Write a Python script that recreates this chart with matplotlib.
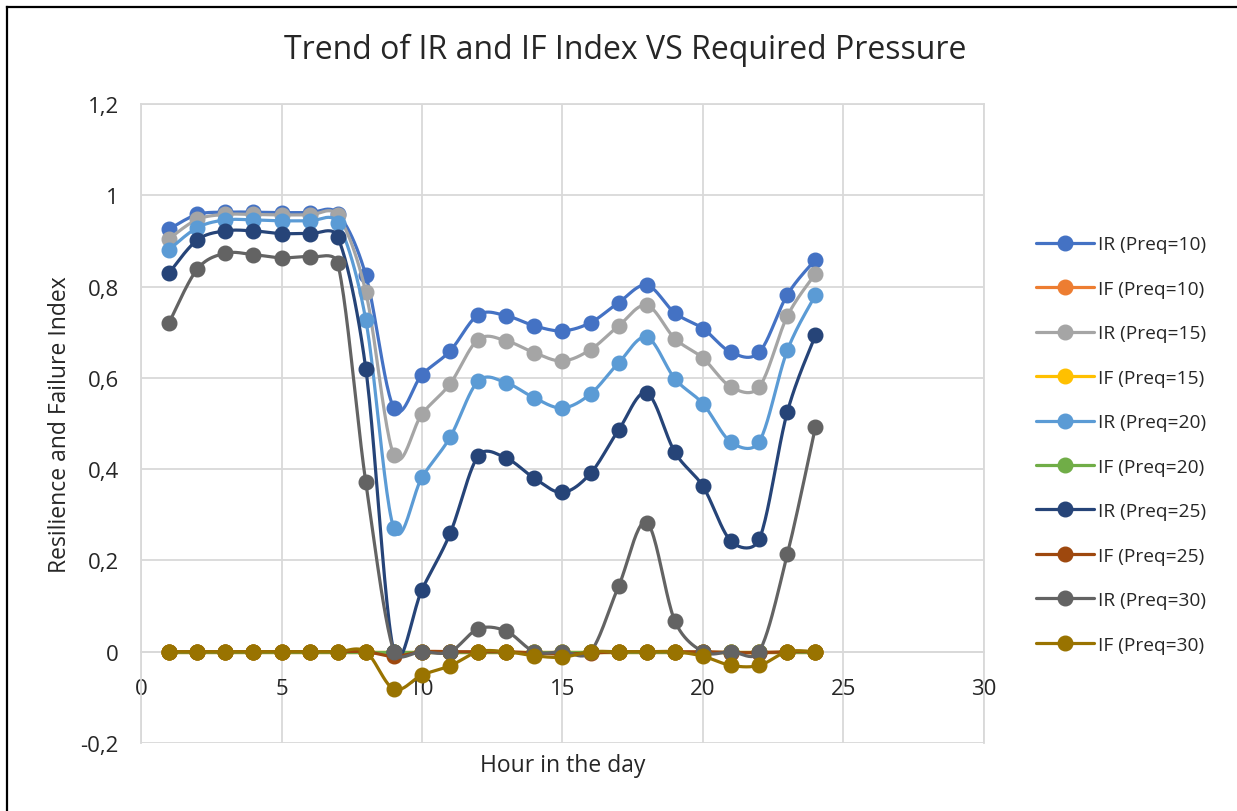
import matplotlib.pyplot as plt
import numpy as np
from matplotlib.lines import Line2D
from matplotlib.ticker import FuncFormatter, MultipleLocator

plt.rcParams["font.family"] = ["Open Sans", "DejaVu Sans"]

hours = np.arange(1, 25)

ir_10 = [0.926, 0.958, 0.963, 0.963, 0.962, 0.962, 0.960, 0.825, 0.534, 0.607,
         0.659, 0.738, 0.736, 0.714, 0.703, 0.721, 0.765, 0.803, 0.742, 0.708,
         0.656, 0.656, 0.782, 0.859]
if_10 = [0.0] * 24
ir_15 = [0.905, 0.947, 0.958, 0.958, 0.957, 0.957, 0.956, 0.788, 0.431, 0.521,
         0.587, 0.684, 0.681, 0.655, 0.637, 0.662, 0.714, 0.759, 0.686, 0.643,
         0.580, 0.580, 0.735, 0.828]
if_15 = [0.0] * 24
ir_20 = [0.881, 0.929, 0.946, 0.946, 0.944, 0.944, 0.940, 0.727, 0.270, 0.382,
         0.470, 0.593, 0.589, 0.556, 0.534, 0.565, 0.633, 0.689, 0.598, 0.543,
         0.459, 0.460, 0.660, 0.781]
if_20 = [0.0] * 24
ir_25 = [0.830, 0.902, 0.922, 0.922, 0.916, 0.916, 0.909, 0.620, 0.0, 0.136,
         0.259, 0.429, 0.424, 0.380, 0.349, 0.391, 0.486, 0.567, 0.437, 0.362,
         0.242, 0.246, 0.525, 0.693]
if_25 = [0.0, 0.0, 0.0, 0.0, 0.0, 0.0, 0.0, 0.0, -0.01, 0.0,
         0.0, 0.0, 0.0, -0.003, -0.005, -0.003, 0.0, 0.0, 0.0, 0.0,
         -0.002, -0.002, 0.0, 0.0]
ir_30 = [0.721, 0.838, 0.873, 0.870, 0.863, 0.865, 0.851, 0.371, 0.0, 0.0,
         0.0, 0.050, 0.045, 0.0, 0.0, 0.0, 0.144, 0.283, 0.067, 0.0,
         0.0, 0.0, 0.213, 0.492]
if_30 = [0.0, 0.0, 0.0, 0.0, 0.0, 0.0, 0.0, 0.0, -0.082, -0.051,
         -0.031, 0.0, 0.0, -0.009, -0.012, 0.0, 0.0, 0.0, 0.0, -0.010,
         -0.030, -0.030, 0.0, 0.0]

series = [
    ("IR (Preq=10)", ir_10, "#4472C4"),
    ("IF (Preq=10)", if_10, "#ED7D31"),
    ("IR (Preq=15)", ir_15, "#A5A5A5"),
    ("IF (Preq=15)", if_15, "#FFC000"),
    ("IR (Preq=20)", ir_20, "#5B9BD5"),
    ("IF (Preq=20)", if_20, "#70AD47"),
    ("IR (Preq=25)", ir_25, "#264478"),
    ("IF (Preq=25)", if_25, "#9E480E"),
    ("IR (Preq=30)", ir_30, "#636363"),
    ("IF (Preq=30)", if_30, "#997300"),
]


def smooth_curve(x, y, sx=28.1, sy=455.0, samples=24, limit=0.45):
    """Smoothed line through the points (cubic Bezier, worked out in
    screen-like units so the tangents are not skewed by the axis scales)."""
    pts = np.column_stack([np.asarray(x) * sx, np.asarray(y) * sy]).astype(float)
    padded = np.vstack([pts[0], pts, pts[-1]])
    t = np.linspace(0.0, 1.0, samples, endpoint=False)[:, None]
    out = []
    for i in range(len(pts) - 1):
        p0 = padded[i + 1]
        p3 = padded[i + 2]
        seg_len = np.hypot(*(p3 - p0))
        t0 = (padded[i + 2] - padded[i]) / 6.0
        t1 = (padded[i + 3] - padded[i + 1]) / 6.0
        for tang in (t0, t1):
            n = np.hypot(*tang)
            if n > limit * seg_len and n > 0:
                tang *= limit * seg_len / n
        c1 = p0 + t0
        c2 = p3 - t1
        seg = ((1 - t) ** 3) * p0 + 3 * ((1 - t) ** 2) * t * c1 \
            + 3 * (1 - t) * t ** 2 * c2 + t ** 3 * p3
        out.append(seg)
    out.append(pts[-1:])
    curve = np.vstack(out)
    return curve[:, 0] / sx, curve[:, 1] / sy, list(range(0, len(curve), samples))


fig = plt.figure(figsize=(12.37, 8.12), dpi=100)
W, H = 1237, 812
ax = fig.add_axes([141 / W, 1 - 744 / H, (984 - 141) / W, (744 - 105) / H])

for label, values, color in series:
    cx, cy, marks = smooth_curve(hours, values)
    ax.plot(cx, cy, color=color, linewidth=2.3, marker="o", markersize=10.5,
            markevery=marks, label=label, solid_capstyle="round")

ax.set_xlim(0, 30)
ax.set_ylim(-0.2, 1.2)
ax.xaxis.set_major_locator(MultipleLocator(5))
ax.yaxis.set_major_locator(MultipleLocator(0.2))
ax.yaxis.set_major_formatter(
    FuncFormatter(lambda v, _: f"{round(v, 1):g}".replace(".", ","))
)
ax.grid(True, color="#D9D9D9", linewidth=1.3)
ax.set_axisbelow(True)

for side in ("left", "right", "top"):
    ax.spines[side].set_color("#D9D9D9")
    ax.spines[side].set_linewidth(1.3)
ax.spines["bottom"].set_position(("data", 0))
ax.spines["bottom"].set_color("#D9D9D9")
ax.spines["bottom"].set_linewidth(1.3)
ax.spines["bottom"].set_zorder(0.5)

ax.tick_params(axis="both", length=0, labelsize=16, colors="#262626")
ax.tick_params(axis="x", pad=19)
ax.tick_params(axis="y", pad=16)

ax.set_xlabel("Hour in the day", fontsize=16.5, color="#262626")
ax.xaxis.set_label_coords(0.5, -0.034)
ax.xaxis.label.set_va("center")
ax.set_ylabel("Resilience and Failure Index", fontsize=16.5, color="#262626")
ax.yaxis.set_label_coords(-0.096, 0.5)
ax.yaxis.label.set_va("center")

fig.text(625 / W, 1 - 50 / H, "Trend of IR and IF Index VS Required Pressure",
         fontsize=23, color="#262626", ha="center", va="center")

ax.legend(loc="center left", bbox_to_anchor=(1036 / W, 1 - 445.5 / H),
          bbox_transform=fig.transFigure, frameon=False, fontsize=13.8,
          handlelength=3.0, handletextpad=0.25, labelspacing=1.38,
          borderpad=0, borderaxespad=0, labelcolor="#262626")

# chart border: only the left and top edges fall inside the canvas
fig.add_artist(Line2D([7.5 / W, 7.5 / W], [0, 1 - 7.5 / H],
                      transform=fig.transFigure, color="black", linewidth=1.6))
fig.add_artist(Line2D([7.5 / W, 1], [1 - 7.5 / H, 1 - 7.5 / H],
                      transform=fig.transFigure, color="black", linewidth=1.6))

fig.savefig("out.png", dpi=100)
